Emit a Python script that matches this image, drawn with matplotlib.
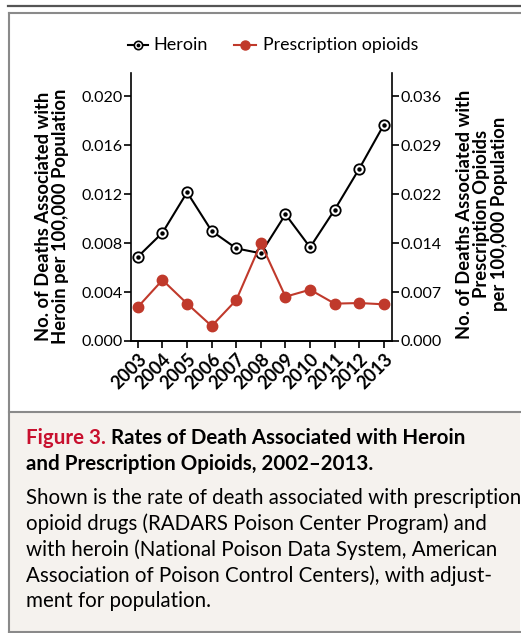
import matplotlib.pyplot as plt
from matplotlib.patches import Rectangle
from matplotlib.lines import Line2D

plt.rcParams['font.family'] = ['Lato', 'DejaVu Sans']

years = [2003, 2004, 2005, 2006, 2007, 2008, 2009, 2010, 2011, 2012, 2013]
heroin = [0.00688, 0.00884, 0.01214, 0.00898, 0.00756, 0.00716,
          0.01034, 0.00765, 0.01072, 0.01407, 0.01766]
rx_opioids = [0.00500, 0.00896, 0.00549, 0.00220, 0.00602, 0.01435,
              0.00651, 0.00754, 0.00549, 0.00558, 0.00539]
left_ticks = [0.000, 0.004, 0.008, 0.012, 0.016, 0.020]
right_ticks = [0.0, 0.0072, 0.0144, 0.0216, 0.0288, 0.036]
right_labels = ["0.000", "0.007", "0.014", "0.022", "0.029", "0.036"]

W, H = 521, 633
fig = plt.figure(figsize=(W / 100, H / 100), dpi=100)

def fx(px):
    return px / W

def fy(py):
    return 1 - py / H

red = "#c0392b"
border = "#8a8a8a"

# frame, caption background, top rule
fig.patches.append(Rectangle((fx(9), fy(632)), fx(520) - fx(9), fy(412) - fy(632),
                             transform=fig.transFigure, facecolor="#f5f2ee",
                             edgecolor="none", zorder=0))
for (x0, y0, x1, y1) in [(9, 13, 521, 13), (9, 412, 521, 412), (9, 632, 521, 632),
                         (9, 13, 9, 632)]:
    fig.add_artist(Line2D([fx(x0), fx(x1)], [fy(y0), fy(y1)], transform=fig.transFigure,
                          color=border, lw=1.5))
fig.add_artist(Line2D([fx(8), fx(521)], [fy(6), fy(6)], transform=fig.transFigure,
                      color="#555555", lw=1.6))

# axes
ax = fig.add_axes([fx(131), fy(341), fx(392) - fx(131), fy(73) - fy(341)])
ax.set_facecolor("none")
ax.plot(years, heroin, color="black", lw=1.5, marker="o", ms=7.5,
        mfc="white", mec="black", mew=1.3, zorder=3)
ax.plot(years, heroin, ls="none", marker="o", ms=2.2, color="black", zorder=4)
ax.set_xlim(2002.72, 2013.33)
ax.set_ylim(0, 0.02188)
ax.set_yticks(left_ticks)
ax.set_yticklabels([f"{t:.3f}" for t in left_ticks])
ax.set_xticks(years)
ax.set_xticklabels([str(y) for y in years], rotation=45, ha="right",
                   rotation_mode="anchor", fontweight="bold", fontsize=13)
ax.spines["top"].set_visible(False)
ax.spines["right"].set_visible(False)

ax2 = ax.twinx()
ax2.plot(years, rx_opioids, color=red, lw=1.5, marker="o", ms=7.5,
         mfc=red, mec=red, zorder=3)
ax2.set_ylim(0, 0.02188 * 1.8)
ax2.set_yticks(right_ticks)
ax2.set_yticklabels(right_labels)
ax2.spines["top"].set_visible(False)
ax2.spines["left"].set_visible(False)

for a in (ax, ax2):
    for s in a.spines.values():
        s.set_linewidth(1.2)
    a.tick_params(axis="y", length=5, width=1.2, labelsize=11.5, pad=1)
ax.tick_params(axis="x", length=5, width=1.2, pad=2)

fig.text(fx(52), fy(216), "No. of Deaths Associated with\nHeroin per 100,000 Population",
         rotation=90, ha="center", va="center", fontsize=13.2, fontweight="bold",
         linespacing=1.0)
fig.text(fx(482), fy(214), "No. of Deaths Associated with\nPrescription Opioids\nper 100,000 Population",
         rotation=90, ha="center", va="center", fontsize=13.2, fontweight="bold",
         linespacing=1.0)

# legend
fig.add_artist(Line2D([fx(128), fx(148)], [fy(45), fy(45)], transform=fig.transFigure,
                      color="black", lw=1.5))
fig.add_artist(Line2D([fx(138)], [fy(45)], transform=fig.transFigure, ls="none",
                      color="black", marker="o", ms=6, mfc="white", mec="black", mew=1.2))
fig.add_artist(Line2D([fx(138)], [fy(45)], transform=fig.transFigure, ls="none",
                      color="black", marker="o", ms=1.8))
fig.text(fx(153), fy(45), "Heroin", fontsize=13, va="center", ha="left")
fig.add_artist(Line2D([fx(234), fx(256)], [fy(45), fy(45)], transform=fig.transFigure,
                      color=red, lw=1.5))
fig.add_artist(Line2D([fx(245)], [fy(45)], transform=fig.transFigure, ls="none",
                      color=red, marker="o", ms=6.5))
fig.text(fx(263), fy(45), "Prescription opioids", fontsize=12.8, va="center", ha="left")

# caption
cap_size = 14.8
t1 = fig.text(fx(26), fy(438), "Figure 3.", color="#c8102e", fontsize=cap_size,
              fontweight="bold", va="center", ha="left")
fig.canvas.draw()
bb = t1.get_window_extent()
fig.text((bb.x1 + 5) / W, fy(438), "Rates of Death Associated with Heroin",
         fontsize=cap_size, fontweight="bold", va="center", ha="left")
fig.text(fx(26), fy(464), "and Prescription Opioids, 2002\u20132013.",
         fontsize=cap_size, fontweight="bold", va="center", ha="left")
body = ["Shown is the rate of death associated with prescription",
        "opioid drugs (RADARS Poison Center Program) and",
        "with heroin (National Poison Data System, American",
        "Association of Poison Control Centers), with adjust-",
        "ment for population."]
for i, line in enumerate(body):
    fig.text(fx(26), fy(498 + i * 25.8), line, fontsize=cap_size, va="center", ha="left")

fig.savefig("out.png", dpi=100)
